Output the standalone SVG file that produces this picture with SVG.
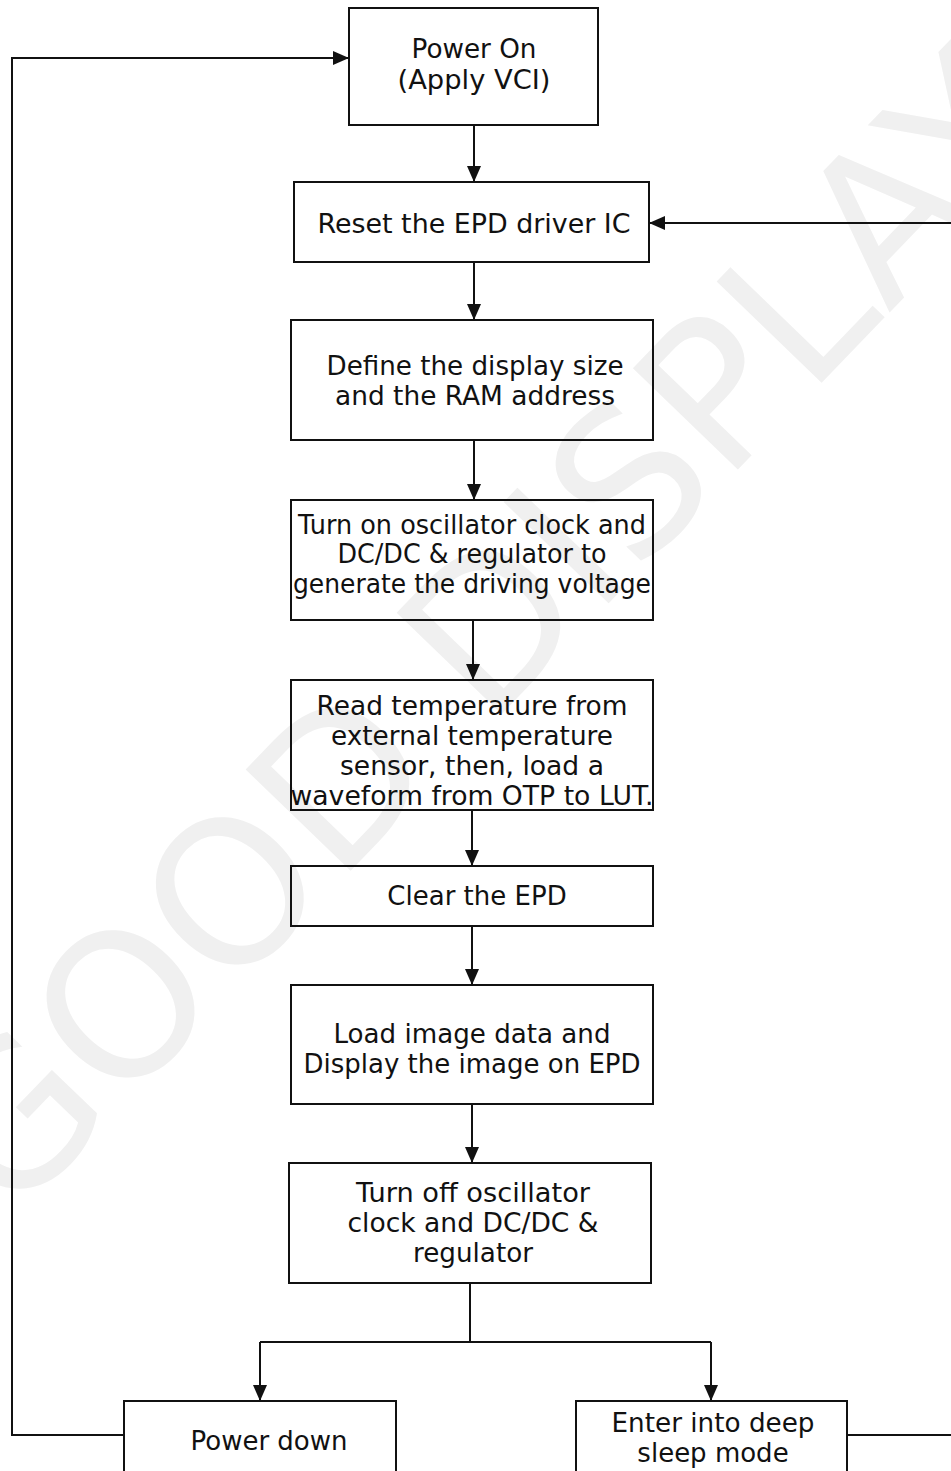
<svg xmlns="http://www.w3.org/2000/svg" width="951" height="1471" viewBox="0 0 951 1471">
<style>
.box{fill:none;stroke:#111;stroke-width:2}
.lbl{font-family:"DejaVu Sans","Verdana",sans-serif;font-size:26px;fill:#111;text-anchor:middle}
.con{fill:none;stroke:#111;stroke-width:2}
.wm{font-family:"DejaVu Sans",sans-serif;font-size:200px;fill:#f0f0f0}
</style>
<defs>
<marker id="ah" markerUnits="userSpaceOnUse" markerWidth="16" markerHeight="14" refX="16" refY="7" orient="auto">
<path d="M0,0 L16,7 L0,14 Z" fill="#111"/>
</marker>
</defs>
<rect width="951" height="1471" fill="#fff"/>
<text class="wm" transform="translate(10.6,1222.6) rotate(-46)">GOOD DISPLAY</text>

<g id="connectors">
<path class="con" d="M474,125 V182" marker-end="url(#ah)"/>
<path class="con" d="M474,262 V320" marker-end="url(#ah)"/>
<path class="con" d="M474,440 V500" marker-end="url(#ah)"/>
<path class="con" d="M473,620 V680" marker-end="url(#ah)"/>
<path class="con" d="M472,810 V866" marker-end="url(#ah)"/>
<path class="con" d="M472,926 V985" marker-end="url(#ah)"/>
<path class="con" d="M472,1104 V1163" marker-end="url(#ah)"/>
<path class="con" d="M470,1283 V1342"/>
<path class="con" d="M260,1342 H711"/>
<path class="con" d="M260,1342 V1401" marker-end="url(#ah)"/>
<path class="con" d="M711,1342 V1401" marker-end="url(#ah)"/>
<path class="con" d="M124,1435 H12 V58 H349" marker-end="url(#ah)"/>
<path class="con" d="M847,1435 H951"/>
<path class="con" d="M951,223 H649" marker-end="url(#ah)"/>
</g>

<g id="n1"><rect class="box" x="349" y="8" width="249" height="117"/>
<text class="lbl" x="474" y="58" textLength="125" lengthAdjust="spacingAndGlyphs">Power On</text>
<text class="lbl" x="474" y="89" textLength="153" lengthAdjust="spacingAndGlyphs">(Apply VCI)</text></g>

<g id="n2"><rect class="box" x="294" y="182" width="355" height="80"/>
<text class="lbl" x="474" y="233" textLength="313" lengthAdjust="spacingAndGlyphs">Reset the EPD driver IC</text></g>

<g id="n3"><rect class="box" x="291" y="320" width="362" height="120"/>
<text class="lbl" x="475" y="375" textLength="297" lengthAdjust="spacingAndGlyphs">Define the display size</text>
<text class="lbl" x="475" y="405" textLength="280" lengthAdjust="spacingAndGlyphs">and the RAM address</text></g>

<g id="n4"><rect class="box" x="291" y="500" width="362" height="120"/>
<text class="lbl" x="472" y="534" textLength="348" lengthAdjust="spacingAndGlyphs">Turn on oscillator clock and</text>
<text class="lbl" x="472" y="563" textLength="269" lengthAdjust="spacingAndGlyphs">DC/DC &amp; regulator to</text>
<text class="lbl" x="472" y="593" textLength="358" lengthAdjust="spacingAndGlyphs">generate the driving voltage</text></g>

<g id="n5"><rect class="box" x="291" y="680" width="362" height="130"/>
<text class="lbl" x="472" y="715" textLength="311" lengthAdjust="spacingAndGlyphs">Read temperature from</text>
<text class="lbl" x="472" y="745" textLength="282" lengthAdjust="spacingAndGlyphs">external temperature</text>
<text class="lbl" x="472" y="775" textLength="264" lengthAdjust="spacingAndGlyphs">sensor, then, load a</text>
<text class="lbl" x="472" y="805" textLength="363" lengthAdjust="spacingAndGlyphs">waveform from OTP to LUT.</text></g>

<g id="n6"><rect class="box" x="291" y="866" width="362" height="60"/>
<text class="lbl" x="477" y="905">Clear the EPD</text></g>

<g id="n7"><rect class="box" x="291" y="985" width="362" height="119"/>
<text class="lbl" x="472" y="1043" textLength="277" lengthAdjust="spacingAndGlyphs">Load image data and</text>
<text class="lbl" x="472" y="1073">Display the image on EPD</text></g>

<g id="n8"><rect class="box" x="289" y="1163" width="362" height="120"/>
<text class="lbl" x="473" y="1202" textLength="234" lengthAdjust="spacingAndGlyphs">Turn off oscillator</text>
<text class="lbl" x="473" y="1232" textLength="251" lengthAdjust="spacingAndGlyphs">clock and DC/DC &amp;</text>
<text class="lbl" x="473" y="1262" textLength="120" lengthAdjust="spacingAndGlyphs">regulator</text></g>

<g id="n9"><rect class="box" x="124" y="1401" width="272" height="100"/>
<text class="lbl" x="269" y="1450">Power down</text></g>

<g id="n10"><rect class="box" x="576" y="1401" width="271" height="100"/>
<text class="lbl" x="713" y="1432" textLength="203" lengthAdjust="spacingAndGlyphs">Enter into deep</text>
<text class="lbl" x="713" y="1462">sleep mode</text></g>
</svg>
